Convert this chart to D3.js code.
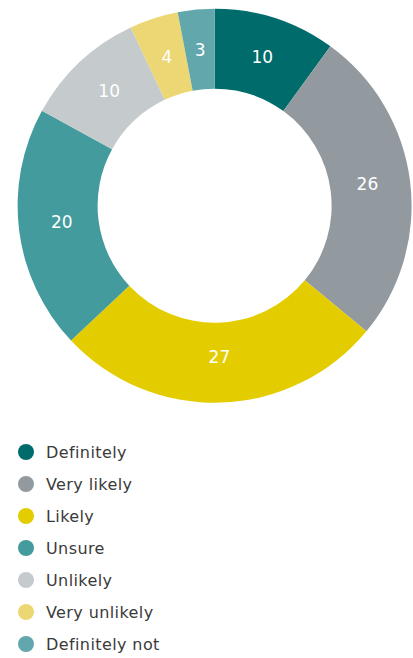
<!DOCTYPE html>
<html>
<head>
<meta charset="utf-8">
<script src="https://cdn.jsdelivr.net/npm/d3@7"></script>
<style>
  html, body { margin: 0; padding: 0; background: #fff; }
  svg { display: block; }
  text { font-family: "DejaVu Sans", "Open Sans", sans-serif; }
</style>
</head>
<body>
<svg id="chart" width="413" height="658"></svg>
<script>
// Survey responses, clockwise from 12 o'clock
const categories = ["Definitely", "Very likely", "Likely", "Unsure", "Unlikely", "Very unlikely", "Definitely not"];
const values = [10, 26, 27, 20, 10, 4, 3];
const colors = ["#006b6b", "#939a9f", "#e3cd00", "#439b9d", "#c5cacd", "#ecd774", "#62a7ab"];

const svg = d3.select("#chart");
const cx = 214.6, cy = 205.7;
const outerR = 197, innerR = 117;

const data = categories.map((c, i) => ({ category: c, value: values[i], color: colors[i] }));

const pie = d3.pie().value(d => d.value).sort(null);
const arc = d3.arc().innerRadius(innerR).outerRadius(outerR);
const labelArc = d3.arc().innerRadius(154).outerRadius(154);

const g = svg.append("g").attr("transform", `translate(${cx},${cy})`);
const arcs = pie(data);

g.selectAll("path.slice")
  .data(arcs)
  .join("path")
  .attr("class", "slice")
  .attr("d", arc)
  .attr("fill", d => d.data.color);

g.selectAll("text.value")
  .data(arcs)
  .join("text")
  .attr("class", "value")
  .attr("transform", d => `translate(${labelArc.centroid(d)})`)
  .attr("text-anchor", "middle")
  .attr("dy", "0.2em")
  .attr("fill", "#fff")
  .attr("font-size", 17)
  .text(d => d.data.value);

// Legend
const legend = svg.append("g").attr("transform", "translate(26,452)");
const rows = legend.selectAll("g.row")
  .data(data)
  .join("g")
  .attr("class", "row")
  .attr("transform", (d, i) => `translate(0,${i * 32})`);

rows.append("circle").attr("r", 8).attr("fill", d => d.color);
rows.append("text")
  .attr("x", 20)
  .attr("dy", "0.36em")
  .attr("fill", "#3a3a3a")
  .attr("font-size", 16)
  .attr("letter-spacing", 0.4)
  .text(d => d.category);
</script>
</body>
</html>
